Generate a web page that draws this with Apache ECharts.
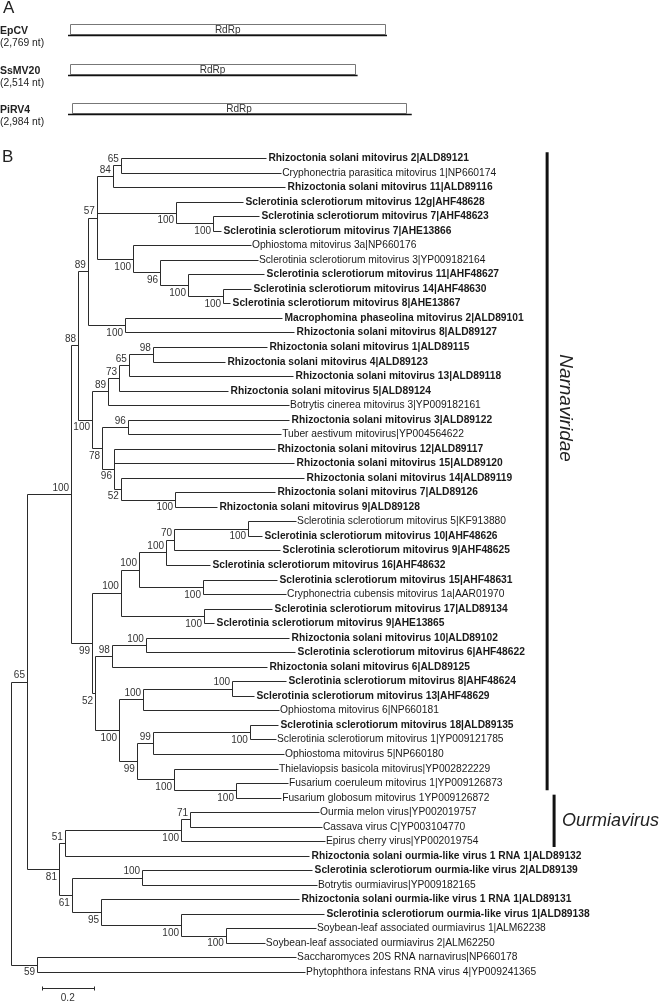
<!DOCTYPE html>
<html><head><meta charset="utf-8">
<script src="https://cdn.jsdelivr.net/npm/echarts@6/dist/echarts.min.js"></script>
<style>html,body{margin:0;padding:0;background:#fff}#c{width:660px;height:1001px}</style>
</head><body><div id="c"></div>
<script>
// ---------- Panel A: genome organisation ----------
const genomeNames = ['EpCV', 'SsMV20', 'PiRV4'];
const genomeLengths = [2769, 2514, 2984];
const orfStart = [20, 20, 35];
const orfEnd = [2752, 2490, 2934];
const orfLabels = ['RdRp', 'RdRp', 'RdRp'];

// ---------- Panel B: phylogenetic tree ----------
const leafNames = [
'Rhizoctonia solani mitovirus 2|ALD89121','Cryphonectria parasitica mitovirus 1|NP660174','Rhizoctonia solani mitovirus 11|ALD89116',
'Sclerotinia sclerotiorum mitovirus 12g|AHF48628','Sclerotinia sclerotiorum mitovirus 7|AHF48623','Sclerotinia sclerotiorum mitovirus 7|AHE13866',
'Ophiostoma mitovirus 3a|NP660176','Sclerotinia sclerotiorum mitovirus 3|YP009182164','Sclerotinia sclerotiorum mitovirus 11|AHF48627',
'Sclerotinia sclerotiorum mitovirus 14|AHF48630','Sclerotinia sclerotiorum mitovirus 8|AHE13867','Macrophomina phaseolina mitovirus 2|ALD89101',
'Rhizoctonia solani mitovirus 8|ALD89127','Rhizoctonia solani mitovirus 1|ALD89115','Rhizoctonia solani mitovirus 4|ALD89123',
'Rhizoctonia solani mitovirus 13|ALD89118','Rhizoctonia solani mitovirus 5|ALD89124','Botrytis cinerea mitovirus 3|YP009182161',
'Rhizoctonia solani mitovirus 3|ALD89122','Tuber aestivum mitovirus|YP004564622','Rhizoctonia solani mitovirus 12|ALD89117',
'Rhizoctonia solani mitovirus 15|ALD89120','Rhizoctonia solani mitovirus 14|ALD89119','Rhizoctonia solani mitovirus 7|ALD89126',
'Rhizoctonia solani mitovirus 9|ALD89128','Sclerotinia sclerotiorum mitovirus 5|KF913880','Sclerotinia sclerotiorum mitovirus 10|AHF48626',
'Sclerotinia sclerotiorum mitovirus 9|AHF48625','Sclerotinia sclerotiorum mitovirus 16|AHF48632','Sclerotinia sclerotiorum mitovirus 15|AHF48631',
'Cryphonectria cubensis mitovirus 1a|AAR01970','Sclerotinia sclerotiorum mitovirus 17|ALD89134','Sclerotinia sclerotiorum mitovirus 9|AHE13865',
'Rhizoctonia solani mitovirus 10|ALD89102','Sclerotinia sclerotiorum mitovirus 6|AHF48622','Rhizoctonia solani mitovirus 6|ALD89125',
'Sclerotinia sclerotiorum mitovirus 8|AHF48624','Sclerotinia sclerotiorum mitovirus 13|AHF48629','Ophiostoma mitovirus 6|NP660181',
'Sclerotinia sclerotiorum mitovirus 18|ALD89135','Sclerotinia sclerotiorum mitovirus 1|YP009121785','Ophiostoma mitovirus 5|NP660180',
'Thielaviopsis basicola mitovirus|YP002822229','Fusarium coeruleum mitovirus 1|YP009126873','Fusarium globosum mitovirus 1YP009126872',
'Ourmia melon virus|YP002019757','Cassava virus C|YP003104770','Epirus cherry virus|YP002019754',
'Rhizoctonia solani ourmia-like virus 1 RNA 1|ALD89132','Sclerotinia sclerotiorum ourmia-like virus 2|ALD89139','Botrytis ourmiavirus|YP009182165',
'Rhizoctonia solani ourmia-like virus 1 RNA 1|ALD89131','Sclerotinia sclerotiorum ourmia-like virus 1|ALD89138','Soybean-leaf associated ourmiavirus 1|ALM62238',
'Soybean-leaf associated ourmiavirus 2|ALM62250','Saccharomyces 20S RNA narnavirus|NP660178','Phytophthora infestans RNA virus 4|YP009241365'
];
const leafBold = [1,0,1,1,1,1,0,0,1,1,1,1,1,1,1,1,1,0,1,0,1,1,1,1,1,0,1,1,1,1,0,1,1,1,1,1,1,1,0,1,0,0,0,0,0,0,0,0,1,1,0,1,1,0,0,0,0];
// root-to-tip distance of each leaf (substitutions/site)
const leafDepth = [0.988,1.047,1.062,0.899,0.961,0.814,0.930,0.957,0.981,0.930,
0.849,1.050,1.097,0.992,0.829,1.093,0.841,1.078,1.078,1.047,
1.023,1.097,1.136,1.023,0.798,1.105,0.973,1.043,0.771,1.031,
1.066,1.012,0.787,1.078,1.101,0.992,1.066,0.942,1.039,1.035,
1.027,1.058,1.035,1.074,1.047,1.194,1.205,1.217,1.155,1.167,
1.186,1.116,1.213,1.182,0.984,1.105,1.140];

// internal nodes: id, depth from root, children (number = leaf index), bootstrap, label side (a = above, b = below)
const nodeIds =      ['root','N65','XX','BB','M','K','D','B','A','E','G','F','H','I','J','L','N','O','Q','T','S','P','U','V','W','X','CC','Y4','Y3','Y2','Y1','Z1','Z2','Z3','DD','EE','GG','FF','HH','II','JJ','KK','LL','MM','NN','WW','QQ','PP','OO','VV','RR','UU','SS','TT'];
const nodeDepth =    [0,0.062,0.101,0.233,0.260,0.298,0.333,0.395,0.426,0.640,0.783,0.473,0.578,0.686,0.822,0.442,0.314,0.376,0.419,0.457,0.550,0.353,0.453,0.399,0.426,0.636,0.314,0.426,0.496,0.601,0.632,0.919,0.744,0.748,0.326,0.391,0.523,0.419,0.512,0.857,0.488,0.550,0.926,0.632,0.872,0.186,0.209,0.659,0.694,0.236,0.508,0.349,0.659,0.833];
const nodeChildren = [['N65','XX'],['BB','WW'],[55,56],['M','CC'],['K','N'],['D','L'],['B','E','F'],['A',2],[0,1],[3,'G'],[4,5],[6,'H'],[7,'I'],[8,'J'],[9,10],[11,12],
['O','P'],['Q',17],['T',16],['S',15],[13,14],['U','V'],[18,19],[20,21,'W'],[22,'X'],[23,24],
['Y4','DD'],['Y3','Z3'],['Y2','Z2'],['Y1',28],['Z1',27],[25,26],[29,30],[31,32],
['EE','FF'],['GG',35],[33,34],['HH','JJ'],['II',38],[36,37],['KK','MM'],['LL',41],[39,40],[42,'NN'],[43,44],
['QQ','VV'],['PP',48],['OO',47],[45,46],['RR','UU'],[49,50],[51,'SS'],[52,'TT'],[53,54]];
const nodeSupport =  [null,65,59,100,88,89,57,84,65,100,100,100,96,100,100,100,100,89,73,65,98,78,96,96,52,100,99,100,100,100,70,100,100,100,52,98,100,100,100,100,99,99,100,100,100,81,51,100,71,61,100,95,100,100];
const nodeLabelSide =['',  'a','b','a','a','a','a','a','a','b','b','b','b','b','b','b','b','a','a','a','a','b','a','b','b','b','b','a','a','a','a','b','b','b','b','a','a','b','a','a','b','a','b','b','b','b','a','b','a','b','a','b','b','b'];

const cladeNames = ['Narnaviridae', 'Ourmiavirus'];
const cladeTop = [-0.4, 43.8];     // in leaf-row units
const cladeBottom = [43.5, 47.4];
const scaleBarLength = 0.2;

// ---------- layout ----------
const FONT = '"Liberation Sans", Arial, Helvetica, sans-serif';
const LINE = '#2b2b2b';
const idx = {}; nodeIds.forEach((id, i) => idx[id] = i);
const yCache = {};
function yOf(c) {
  if (typeof c === 'number') return c;
  if (yCache[c] !== undefined) return yCache[c];
  const ch = nodeChildren[idx[c]];
  return (yCache[c] = (yOf(ch[0]) + yOf(ch[ch.length - 1])) / 2);
}
function depthOf(c) { return typeof c === 'number' ? leafDepth[c] : nodeDepth[idx[c]]; }
const segs = [];
nodeIds.forEach((id, i) => {
  const ch = nodeChildren[i], d = nodeDepth[i];
  segs.push([d, yOf(ch[0]), d, yOf(ch[ch.length - 1])]);
  ch.forEach(c => segs.push([d, yOf(c), depthOf(c), yOf(c)]));
});
const supportData = [], supportText = [], supportSide = [];
nodeIds.forEach((id, i) => {
  if (nodeSupport[i] != null) { supportData.push([nodeDepth[i], yOf(id)]); supportText.push(String(nodeSupport[i])); supportSide.push(nodeLabelSide[i]); }
});
const px = v => Math.round(v) + 0.5;

const chart = echarts.init(document.getElementById('c'), null, { renderer: 'canvas', width: 660, height: 1001 });
chart.setOption({
  animation: false,
  backgroundColor: '#fff',
  graphic: [
    { type: 'text', x: 3, y: 8, style: { text: 'A', font: '17px ' + FONT, fill: '#222', verticalAlign: 'middle', textVerticalAlign: 'middle' } },
    { type: 'text', x: 2, y: 157, style: { text: 'B', font: '17px ' + FONT, fill: '#222', verticalAlign: 'middle', textVerticalAlign: 'middle' } }
  ],
  grid: [
    { left: 68, top: 35, width: 345.6, height: 79 },
    { left: 11, top: 158, width: 645, height: 814 }
  ],
  xAxis: [
    { gridIndex: 0, type: 'value', min: 0, max: 3000, show: false },
    { gridIndex: 1, type: 'value', min: 0, max: 2.5, show: false }
  ],
  yAxis: [
    { gridIndex: 0, type: 'value', min: 0, max: 2, inverse: true, show: false },
    { gridIndex: 1, type: 'value', min: 0, max: 56, inverse: true, show: false }
  ],
  series: [
    { // genome maps
      type: 'custom', xAxisIndex: 0, yAxisIndex: 0, clip: false,
      data: genomeLengths.map((L, i) => [L, i, orfStart[i], orfEnd[i]]),
      encode: { x: [0, 2, 3], y: 1 },
      renderItem(params, api) {
        const i = params.dataIndex;
        const p0 = api.coord([0, i]), p1 = api.coord([api.value(0), i]);
        const b0 = api.coord([api.value(2), i]), b1 = api.coord([api.value(3), i]);
        const yb = Math.round(p0[1]);
        return { type: 'group', children: [
          { type: 'rect', shape: { x: Math.round(b0[0]) + 0.5, y: yb - 10.5, width: Math.round(b1[0] - b0[0]), height: 10 }, style: { fill: '#fff', stroke: '#777', lineWidth: 1 } },
          { type: 'line', shape: { x1: p0[0], y1: yb + 0.5, x2: p1[0], y2: yb + 0.5 }, style: { stroke: '#111', lineWidth: 1.6 } },
          { type: 'text', x: (b0[0] + b1[0]) / 2, y: yb - 5, style: { text: orfLabels[i], font: '10px ' + FONT, fill: '#333', align: 'center', verticalAlign: 'middle', textAlign: 'center', textVerticalAlign: 'middle' } },
          { type: 'text', x: 0, y: yb - 4, style: { text: genomeNames[i], font: 'bold 10.5px ' + FONT, fill: '#222', align: 'left', verticalAlign: 'middle', textAlign: 'left', textVerticalAlign: 'middle' } },
          { type: 'text', x: 0, y: yb + 8, style: { text: '(' + genomeLengths[i].toLocaleString('en-US') + ' nt)', font: '10.3px ' + FONT, fill: '#222', align: 'left', verticalAlign: 'middle', textAlign: 'left', textVerticalAlign: 'middle' } }
        ] };
      }
    },
    { // tree branches
      type: 'custom', xAxisIndex: 1, yAxisIndex: 1, clip: false,
      data: segs, encode: { x: [0, 2], y: [1, 3] },
      renderItem(params, api) {
        const a = api.coord([api.value(0), api.value(1)]), b = api.coord([api.value(2), api.value(3)]);
        return { type: 'line', shape: { x1: px(a[0]), y1: px(a[1]), x2: px(b[0]), y2: px(b[1]) }, style: { stroke: LINE, lineWidth: 1 } };
      }
    },
    { // leaf labels
      type: 'custom', xAxisIndex: 1, yAxisIndex: 1, clip: false,
      data: leafDepth.map((d, i) => [d, i]), encode: { x: 0, y: 1 },
      renderItem(params, api) {
        const i = params.dataIndex;
        const p = api.coord([api.value(0), api.value(1)]);
        return { type: 'text', x: p[0] + (leafBold[i] ? 2.5 : 1), y: Math.round(p[1]) + 0.5, style: { text: leafNames[i], font: (leafBold[i] ? 'bold ' : '') + '10.25px ' + FONT, fill: '#1a1a1a', align: 'left', verticalAlign: 'middle', textAlign: 'left', textVerticalAlign: 'middle' } };
      }
    },
    { // bootstrap values
      type: 'custom', xAxisIndex: 1, yAxisIndex: 1, clip: false,
      data: supportData, encode: { x: 0, y: 1 },
      renderItem(params, api) {
        const i = params.dataIndex;
        const p = api.coord([api.value(0), api.value(1)]);
        const dy = supportSide[i] === 'a' ? -6 : 8;
        return { type: 'text', x: p[0] - 2, y: p[1] + dy, style: { text: supportText[i], font: '10px ' + FONT, fill: '#333', align: 'right', verticalAlign: 'middle', textAlign: 'right', textVerticalAlign: 'middle' } };
      }
    },
    { // clade bars and names
      type: 'custom', xAxisIndex: 1, yAxisIndex: 1, clip: false,
      data: cladeNames.map((n, i) => [i === 0 ? 2.078 : 2.105, cladeTop[i], cladeBottom[i]]), encode: { x: 0, y: [1, 2] },
      renderItem(params, api) {
        const i = params.dataIndex;
        const a = api.coord([api.value(0), api.value(1)]), b = api.coord([api.value(0), api.value(2)]);
        const children = [{ type: 'line', shape: { x1: a[0], y1: a[1], x2: b[0], y2: b[1] }, style: { stroke: '#111', lineWidth: 3 } }];
        if (i === 0) {
          const t = api.coord([api.value(0), 17.2]);
          children.push({ type: 'text', x: a[0] + 18, y: t[1], rotation: -Math.PI / 2, style: { text: cladeNames[i], font: 'italic 19px ' + FONT, fill: '#222', align: 'center', verticalAlign: 'middle', textAlign: 'center', textVerticalAlign: 'middle' } });
        } else {
          children.push({ type: 'text', x: a[0] + 8, y: (a[1] + b[1]) / 2, style: { text: cladeNames[i], font: 'italic 18px ' + FONT, fill: '#222', align: 'left', verticalAlign: 'middle', textAlign: 'left', textVerticalAlign: 'middle' } });
        }
        return { type: 'group', children };
      }
    },
    { // scale bar
      type: 'custom', xAxisIndex: 1, yAxisIndex: 1, clip: false,
      data: [[0.12, 57.1, 0.12 + scaleBarLength]], encode: { x: [0, 2], y: 1 },
      renderItem(params, api) {
        const a = api.coord([api.value(0), api.value(1)]), b = api.coord([api.value(2), api.value(1)]);
        const y = px(a[1]);
        return { type: 'group', children: [
          { type: 'line', shape: { x1: px(a[0]), y1: y, x2: px(b[0]), y2: y }, style: { stroke: LINE, lineWidth: 1 } },
          { type: 'line', shape: { x1: px(a[0]), y1: y - 2, x2: px(a[0]), y2: y + 2 }, style: { stroke: LINE, lineWidth: 1 } },
          { type: 'line', shape: { x1: px(b[0]), y1: y - 2, x2: px(b[0]), y2: y + 2 }, style: { stroke: LINE, lineWidth: 1 } },
          { type: 'text', x: (a[0] + b[0]) / 2, y: y + 10, style: { text: String(scaleBarLength), font: '10px ' + FONT, fill: '#333', align: 'center', verticalAlign: 'middle', textAlign: 'center', textVerticalAlign: 'middle' } }
        ] };
      }
    }
  ]
});
</script></body></html>
